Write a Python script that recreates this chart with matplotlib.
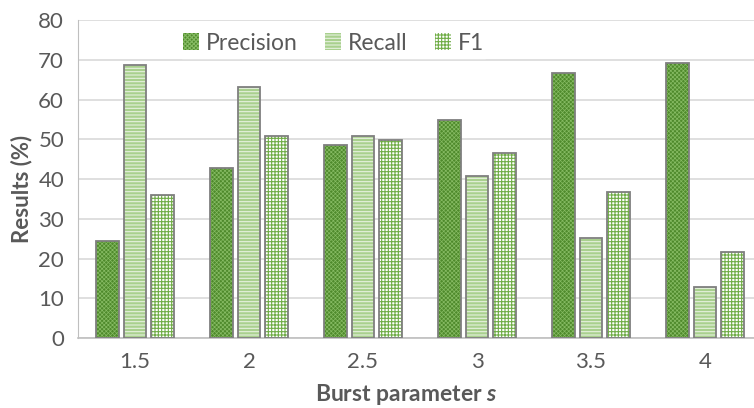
import numpy as np
import matplotlib
matplotlib.use("Agg")
import matplotlib.pyplot as plt
from matplotlib.patches import Patch

# values
categories = ["1.5", "2", "2.5", "3", "3.5", "4"]
precision = [24.4, 42.9, 48.5, 54.8, 66.7, 69.2]
recall = [68.7, 63.1, 50.9, 40.7, 25.2, 12.9]
f1 = [36.0, 50.9, 49.8, 46.6, 36.8, 21.6]

series = ["Precision", "Recall", "F1"]
faces = ["#4f8a2c", "#a9d08e", "#ffffff"]
hatch_cols = ["#86bb63", "#e6f1de", "#70ad47"]
hatches = ["xxxxxxxx", "-----", "+++++"]
hatch_lw = [0.5, 0.8, 0.8]
edge = "#7f7f7f"
txt = "#595959"

plt.rcParams["font.family"] = ["Lato", "DejaVu Sans"]
plt.rcParams["mathtext.fontset"] = "custom"
plt.rcParams["mathtext.bfit"] = "Lato:bold:italic"

fig = plt.figure(figsize=(7.54, 4.08), dpi=100)
ax = fig.add_axes([0.1034, 0.1716, 0.8966, 0.779])

x = np.arange(len(categories))
w = 0.2
step = 0.243
handles = []
for i, vals in enumerate([precision, recall, f1]):
    pos = x + (i - 1) * step
    # hatched fill first, then the gray outline on top
    plt.rcParams["hatch.linewidth"] = hatch_lw[i]
    ax.bar(pos, vals, w, color=faces[i], hatch=hatches[i],
           edgecolor=hatch_cols[i], linewidth=0, zorder=2)
    ax.bar(pos, vals, w, fill=False, edgecolor=edge, linewidth=1.3, zorder=3)
    handles.append(Patch(facecolor=faces[i], hatch=hatches[i],
                         edgecolor=hatch_cols[i], linewidth=0))

ax.set_ylim(0, 80)
ax.set_yticks(range(0, 81, 10))
ax.set_xlim(-0.5, 5.43)
ax.set_xticks(x)
ax.set_xticklabels(categories)
ax.yaxis.grid(True, color="#d9d9d9", linewidth=1.2, zorder=0)
ax.set_axisbelow(True)

for s in ["top", "right"]:
    ax.spines[s].set_visible(False)
ax.spines["left"].set_color("#bfbfbf")
ax.spines["bottom"].set_color("#bfbfbf")
ax.spines["bottom"].set_linewidth(1.2)
ax.tick_params(length=0, labelsize=16, colors=txt)
ax.tick_params(axis="y", pad=10)
ax.tick_params(axis="x", pad=10)

ax.set_ylabel("Results (%)", fontsize=16, fontweight="bold", color=txt)
ax.yaxis.set_label_coords(-0.068, 0.47)
ax.set_xlabel("Burst parameter $\\mathbfit{s}$", fontsize=16.5, fontweight="bold",
              color=txt)
ax.xaxis.set_label_coords(0.485, -0.14)

leg = ax.legend(handles, series, loc="center", bbox_to_anchor=(0.378, 0.928),
                ncol=3, frameon=True, fontsize=16.5, handlelength=0.7,
                handleheight=0.7, handletextpad=0.3, columnspacing=1.2,
                borderpad=0.2, edgecolor="white", framealpha=1)
for t in leg.get_texts():
    t.set_color(txt)

fig.savefig("out.png", dpi=100)
